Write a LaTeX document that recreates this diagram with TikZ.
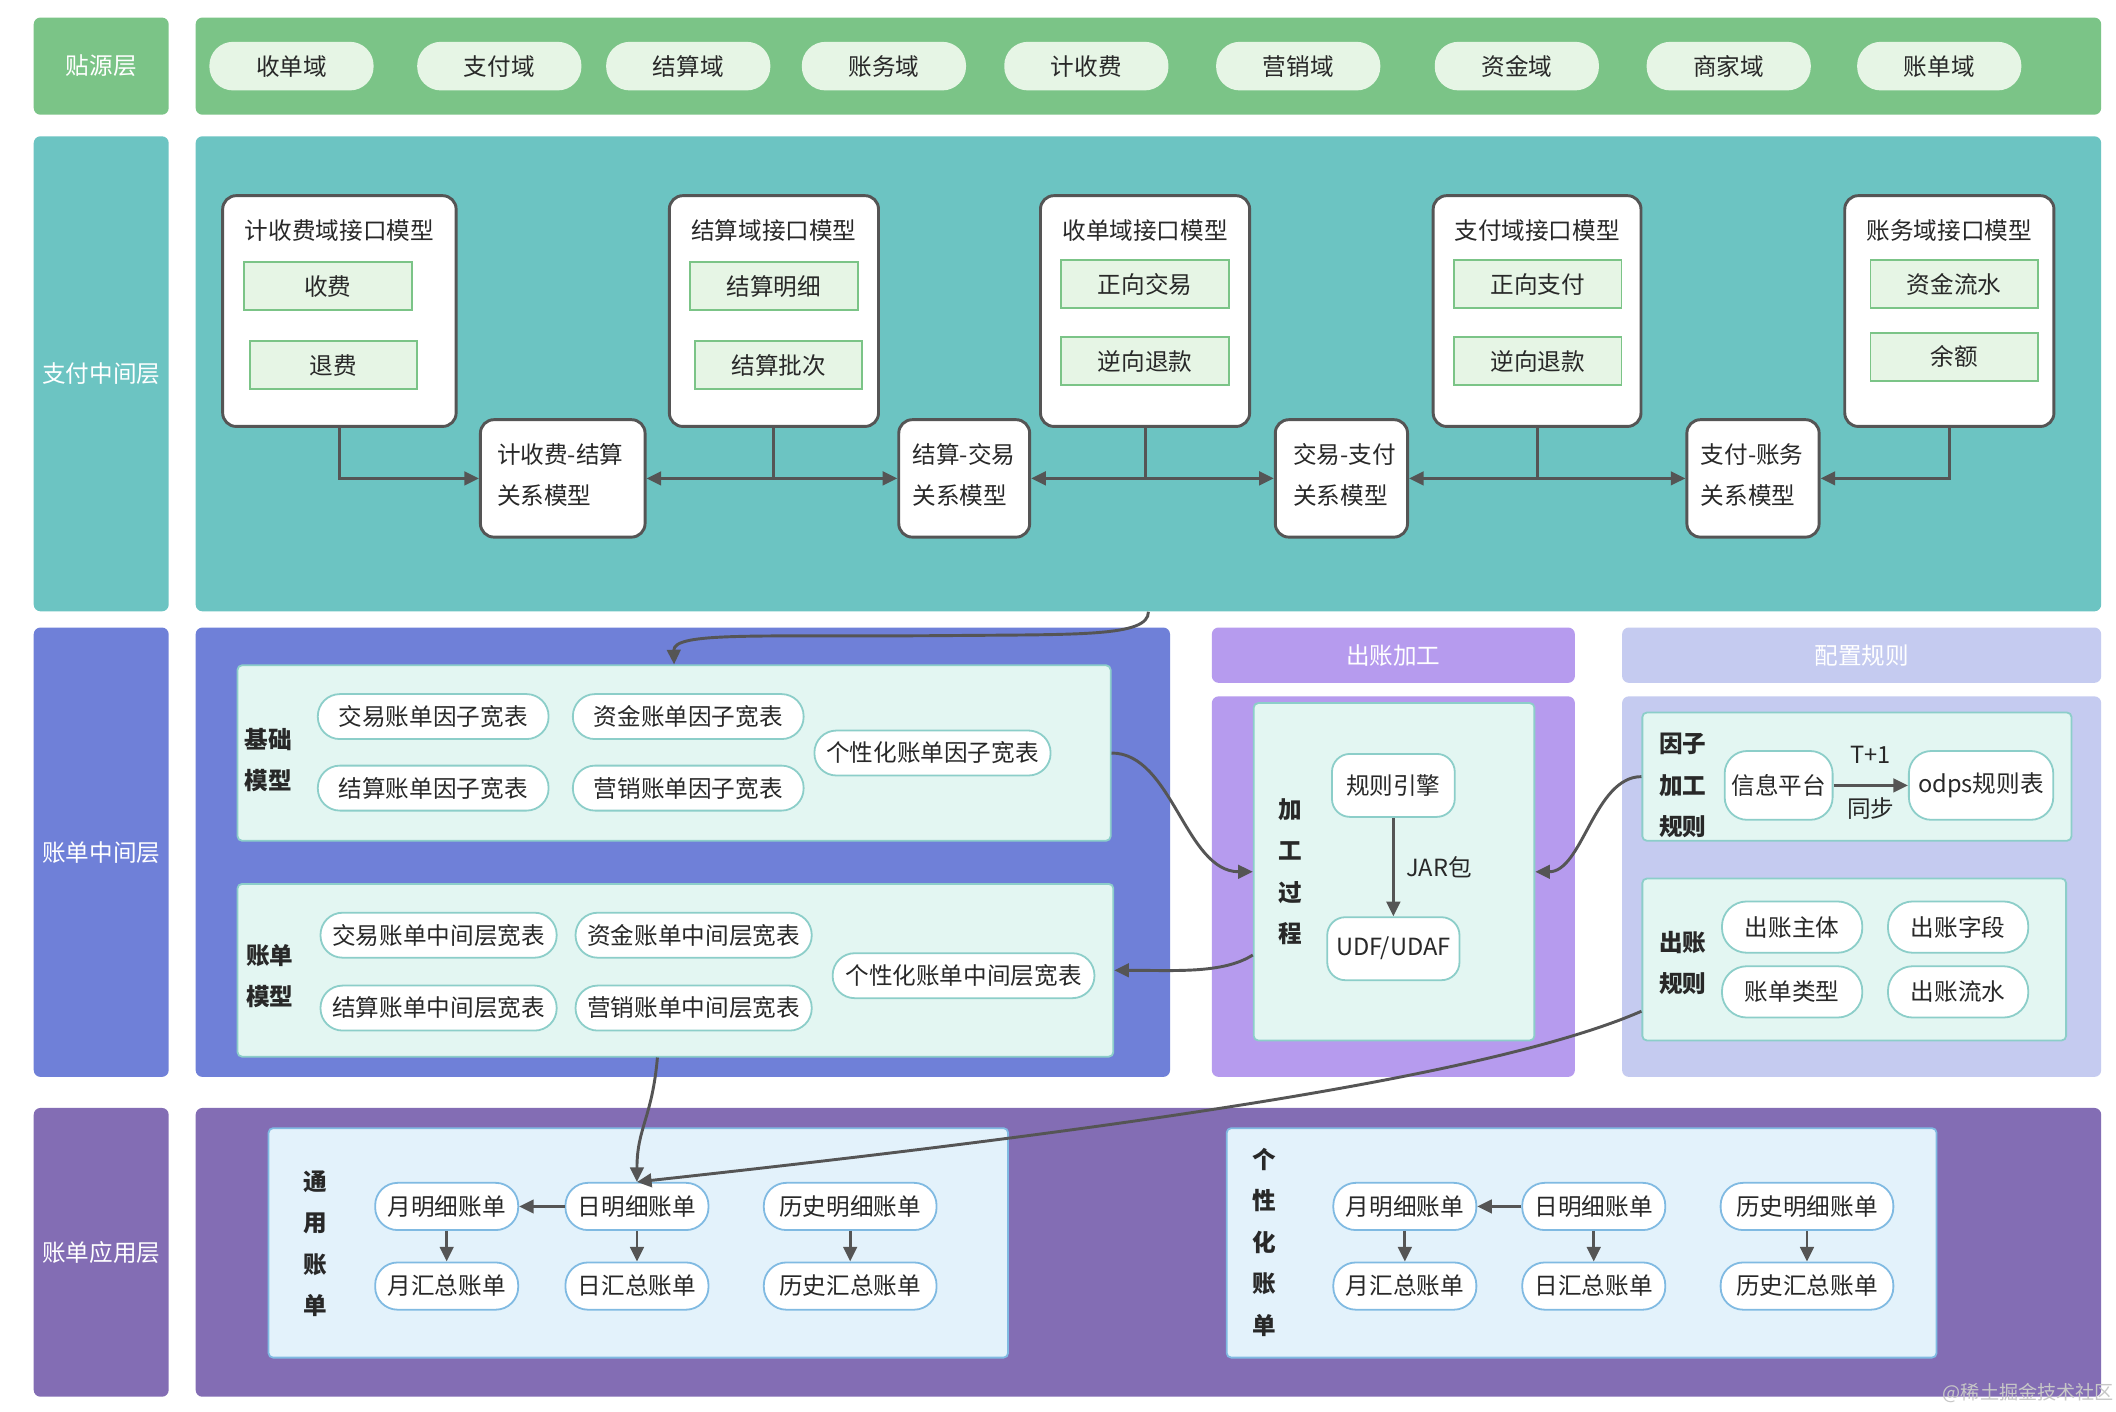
\documentclass[tikz,border=0pt]{standalone}
\usepackage{fontspec}
\setmainfont{Noto Sans CJK SC}
\usepackage{tikz}
\usetikzlibrary{arrows.meta,fit}

\definecolor{srcgreen}{RGB}{123,196,135}
\definecolor{palegreen}{RGB}{230,245,229}
\definecolor{payteal}{RGB}{108,196,194}
\definecolor{billblue}{RGB}{111,128,216}
\definecolor{procpurple}{RGB}{182,155,238}
\definecolor{rulelav}{RGB}{197,203,240}
\definecolor{apppurple}{RGB}{131,109,180}
\definecolor{mintfill}{RGB}{227,246,242}
\definecolor{mintline}{RGB}{140,206,201}
\definecolor{skyfill}{RGB}{227,242,251}
\definecolor{skyline}{RGB}{128,186,226}
\definecolor{linegray}{RGB}{85,85,85}
\definecolor{txtgray}{RGB}{40,40,40}

\tikzset{
  every node/.style={font=\fontsize{10.5}{18.4}\selectfont, text=txtgray, inner sep=0pt},
  layerbox/.style={fill=#1, rounded corners=3pt},
  whitetxt/.style={text=white},
  panelbox/.style={fill=mintfill, draw=mintline, line width=0.8pt, rounded corners=2pt},
  skypanel/.style={fill=skyfill, draw=skyline, line width=0.8pt, rounded corners=2pt},
  ifbox/.style={fill=white, draw=linegray, line width=1.3pt, rounded corners=6pt},
  srcpill/.style={fill=palegreen, rounded corners=10.5pt, minimum width=73pt, minimum height=21.6pt},
  itembox/.style={fill=palegreen, draw=srcgreen, line width=0.8pt, minimum width=74.4pt, minimum height=21.6pt},
  pillbox/.style={fill=white, draw=mintline, line width=0.8pt, rounded corners=9.8pt, minimum width=#1, minimum height=20pt},
  billpill/.style={fill=white, draw=skyline, line width=0.8pt, rounded corners=10pt, minimum width=#1, minimum height=21pt},
  toolbox/.style={fill=white, draw=mintline, line width=0.8pt, rounded corners=8pt, minimum width=#1, minimum height=28pt},
  vlabel/.style={font=\fontsize{10.5}{18.4}\selectfont\bfseries, align=center},
  conn/.style={draw=linegray, line width=1.3pt, -{Triangle[length=6.5pt,width=6pt]}},
}

\begin{document}
\begin{tikzpicture}[x=0.6pt, y=-0.6pt]
  % Page background
  \fill[white] (0,0) rectangle (1568,1046);
  \useasboundingbox (0,0) rectangle (1568,1046);

  % Draw the layer titles
  \foreach \n/\c/\ya/\yb/\txt in {srcT/srcgreen/13/85/贴源层,payT/payteal/101/453/支付中间层,billT/billblue/465/798/账单中间层,appT/apppurple/821/1035/账单应用层} {
    \node[layerbox=\c, fit={(25,\ya) (125,\yb)}] (\n) {};
    \node[whitetxt] (\n-txt) at (\n) {\txt};
  }

  % Draw the layer bodies
  \node[layerbox=srcgreen, fit={(145,13) (1557,85)}] (srcL) {};
  \node[layerbox=payteal, fit={(145,101) (1557,453)}] (payL) {};
  \node[layerbox=billblue, fit={(145,465) (867,798)}] (billL) {};
  \node[layerbox=procpurple, fit={(898,465) (1167,506)}] (procT) {};
  \node[whitetxt] (procT-txt) at (procT) {出账加工};
  \node[layerbox=procpurple, fit={(898,516) (1167,798)}] (procL) {};
  \node[layerbox=rulelav, fit={(1202,465) (1557,506)}] (ruleT) {};
  \node[whitetxt] (ruleT-txt) at (ruleT) {配置规则};
  \node[layerbox=rulelav, fit={(1202,516) (1557,798)}] (ruleL) {};
  \node[layerbox=apppurple, fit={(145,821) (1557,1035)}] (appL) {};

  % Source domains
  \foreach \x/\txt [count=\i] in {216/收单域,370/支付域,510/结算域,655/账务域,805/计收费,962/营销域,1124/资金域,1281/商家域,1437/账单域}
    \node[srcpill] (src\i) at (\x,49) {\txt};

  % Interface models
  \foreach \n/\xa/\xb/\txt in {jsf/165/338/计收费域接口模型,js/496/651/结算域接口模型,sd/771/926/收单域接口模型,zf/1062/1216/支付域接口模型,zw/1367/1522/账务域接口模型} {
    \node[ifbox, fit={(\xa,145) (\xb,316)}] (\n) {};
    \node (\n-title) at (\n.north |- 0,171) {\txt};
  }
  \foreach \n/\x/\y/\txt in {fee/243/212/收费,refee/247/270.5/退费,stdetail/573.5/212/结算明细,stbatch/577/270.5/结算批次,sdfwd/848.5/210.5/正向交易,sdback/848.5/267.5/逆向退款,zffwd/1139.5/210.5/正向支付,zfback/1139.5/267.5/逆向退款,flow/1448/210.5/资金流水,balance/1448/264.5/余额}
    \node[itembox] (\n) at (\x,\y) {\txt};

  % Relation models
  \foreach \n/\xa/\xb/\xt/\txt in {r1/356/478/368/计收费-结算,r2/666/763/676/结算-交易,r3/945/1043/958/交易-支付,r4/1250/1348/1260/支付-账务} {
    \node[ifbox, fit={(\xa,311) (\xb,398)}] (\n) {};
    \node[align=left, anchor=west] (\n-txt) at (\xt,352) {\txt\\关系模型};
  }

  \draw[conn] (jsf.south) |- (r1.west);
  \draw[conn] (js.south) |- (r1.east);
  \draw[conn] (js.south) |- (r2.west);
  \draw[conn] (sd.south) |- (r2.east);
  \draw[conn] (sd.south) |- (r3.west);
  \draw[conn] (zf.south) |- (r3.east);
  \draw[conn] (zf.south) |- (r4.west);
  \draw[conn] (zw.south) |- (r4.east);

  % Base model tables
  \node[panelbox, fit={(176,493) (823,623)}] (base) {};
  \node[vlabel] (baseT) at (199,563) {基础\\模型};
  \foreach \n/\x/\y/\txt in {b1/321/531/交易账单因子宽表,b2/510/531/资金账单因子宽表,b3/321/584/结算账单因子宽表,b4/510/584/营销账单因子宽表}
    \node[pillbox=102.6pt] (\n) at (\x,\y) {\txt};
  \node[pillbox=105pt] (b5) at (691,558) {个性化账单因子宽表};

  % Bill model tables
  \node[panelbox, fit={(176,655) (825,783)}] (bill) {};
  \node[vlabel] (billM) at (200,723.5) {账单\\模型};
  \foreach \n/\x/\y/\txt in {m1/325/693/交易账单中间层宽表,m2/514/693/资金账单中间层宽表,m3/325/747/结算账单中间层宽表,m4/514/747/营销账单中间层宽表}
    \node[pillbox=105pt] (\n) at (\x,\y) {\txt};
  \node[pillbox=116.4pt] (m5) at (714,723) {个性化账单中间层宽表};

  % Processing
  \node[panelbox, fit={(929,521) (1137,771)}] (proc) {};
  \node[vlabel] (procM) at (956,646) {加\\工\\过\\程};
  \node[toolbox=54.6pt] (engine) at (1032.5,582) {规则引擎};
  \node[toolbox=58.8pt] (udf) at (1032.5,703) {UDF/UDAF};
  \draw[conn] (engine) -- node[right=5pt] (jar) {JAR包} (udf);

  % Rules
  \node[panelbox, fit={(1217,528) (1535,623)}] (fac) {};
  \node[vlabel] (facT) at (1247,582) {因子\\加工\\规则};
  \node[toolbox=48pt, minimum height=30.6pt, rounded corners=10pt] (info) at (1318,582) {信息平台};
  \node[toolbox=64.2pt, minimum height=30.6pt, rounded corners=10pt] (odps) at (1468,582) {odps规则表};
  \draw[conn] (info) -- node[above=9pt] (tplus) {T+1} node[below=5pt] (sync) {同步} (odps);

  \node[panelbox, fit={(1217,651) (1531,771)}] (outr) {};
  \node[vlabel] (outrT) at (1247,713.5) {出账\\规则};
  \foreach \n/\x/\y/\txt in {o1/1328/687/出账主体,o2/1451/687/出账字段,o3/1328/735/账单类型,o4/1451/735/出账流水}
    \node[pillbox=62.4pt, minimum height=22.8pt, rounded corners=11pt] (\n) at (\x,\y) {\txt};

  % Application bills
  \node[skypanel, fit={(199,836) (747,1006)}] (common) {};
  \node[vlabel] (commonT) at (234,921.5) {通\\用\\账\\单};
  \node[skypanel, fit={(909,836) (1435,1006)}] (personal) {};
  \node[vlabel] (personalT) at (937,920.5) {个\\性\\化\\账\\单};
  \foreach \p/\xa/\xb/\xc in {g/331/472/630,p/1041/1181/1339} {
    \node[billpill=63.6pt] (\p-mon) at (\xa,894) {月明细账单};
    \node[billpill=63.6pt] (\p-day) at (\xb,894) {日明细账单};
    \node[billpill=76.8pt] (\p-his) at (\xc,894) {历史明细账单};
    \node[billpill=63.6pt] (\p-monsum) at (\xa,953) {月汇总账单};
    \node[billpill=63.6pt] (\p-daysum) at (\xb,953) {日汇总账单};
    \node[billpill=76.8pt] (\p-hissum) at (\xc,953) {历史汇总账单};
    \draw[conn] (\p-day) -- (\p-mon);
    \draw[conn] (\p-mon) -- (\p-monsum);
    \draw[conn] (\p-day) -- (\p-daysum);
    \draw[conn] (\p-his) -- (\p-hissum);
  }

  % Cross-layer flows
  \draw[conn] (payL.south) .. controls (851,472) and (800,470) .. (700,471) .. controls (560,472) and (499,468) .. (base.north);
  \draw[conn] (base.east) .. controls +(45,0) and +(-50,0) .. (proc.west);
  \draw[conn] ([yshift=-37pt]proc.west) .. controls +(-22,14) and +(45,0) .. (bill.east);
  \draw[conn] (fac.west) .. controls +(-35,0) and +(35,0) .. (proc.east);
  \draw[conn] ([xshift=-8pt]bill.south) .. controls +(-4,45) and +(0,-40) .. (g-day.north);
  \draw[conn] ([yshift=-23pt]outr.west) .. controls (1100,800) and (800,840) .. (g-day.north);

  % Watermark
  \node[text=black!22, font=\fontsize{8.5}{10}\selectfont] (mark) at (1503,1032) {@稀土掘金技术社区};
\end{tikzpicture}
\end{document}
